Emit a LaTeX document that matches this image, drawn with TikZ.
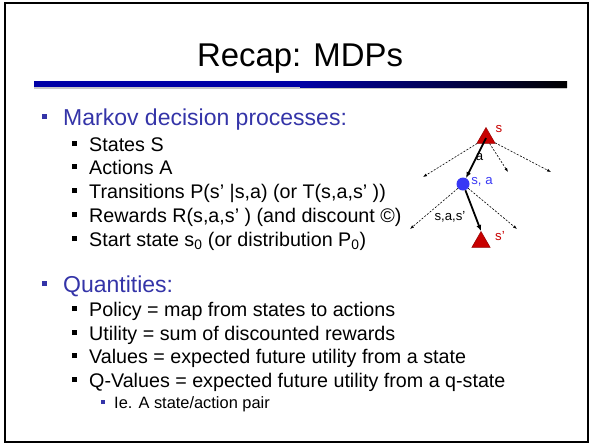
\documentclass[tikz,border=0pt]{standalone}
\usepackage{fontspec}
\setmainfont{Liberation Sans}
\usetikzlibrary{arrows.meta,shapes.geometric}
\definecolor{mdpblue}{HTML}{3434A8}
\definecolor{mdpbar}{HTML}{0000A6}
\definecolor{mdpred}{HTML}{C80000}
\definecolor{mdpcircle}{HTML}{3838F4}

% square bullet: colour, size, raise, gap to the text
\newcommand{\sqbullet}[4]{\textcolor{#1}{\rule[#3]{#2}{#2}}\hspace{#4}}

\begin{document}
\begin{tikzpicture}[
    x=1pt, y=-1pt,
    >=Latex,
    heading/.style={
        anchor=base west,
        inner sep=0pt,
        text=mdpblue,
        font=\fontsize{23}{27}\selectfont
    },
    entry/.style={
        anchor=base west,
        inner sep=0pt,
        font=\fontsize{19.7}{23}\selectfont
    },
    subentry/.style={
        anchor=base west,
        inner sep=0pt,
        font=\fontsize{16.4}{19}\selectfont
    },
    state/.style={
        regular polygon,
        regular polygon sides=3,
        minimum size=21pt,
        inner sep=0pt,
        fill=mdpred,
        draw=mdpred!75!black,
        line width=0.5pt
    },
    qstate/.style={
        circle,
        minimum size=13pt,
        inner sep=0pt,
        fill=mdpcircle
    },
    move/.style={-{Latex[length=6pt,width=5pt]},line width=1.8pt},
    maybe/.style={-{Latex[length=4pt,width=3pt]},line width=0.6pt,dash pattern=on 2pt off 1.5pt},
    tag/.style={inner sep=0pt,font=\fontsize{13.2}{15}\selectfont}
]
\useasboundingbox (0,0) rectangle (592,445);

% Slide frame and title bar
\draw[line width=2pt] (5,3) rectangle (588,442);
\node[font=\fontsize{32.9}{38}\selectfont,anchor=base] (title) at (300,66) {Recap: MDPs};
\fill[black!22] (34,87) rectangle (567,88.5);
\fill[mdpbar] (34,81) rectangle (300,87);
\shade[left color=mdpbar,right color=black] (300,81) rectangle (567,87);

% MDP definition
\node[heading] (markov) at (42,125) {\sqbullet{mdpblue}{5pt}{6pt}{16pt}Markov decision processes:};
\node[entry] (states) at (72,151) {\sqbullet{black}{5pt}{5pt}{12pt}States S};
\node[entry] (actions) at (72,174) {\sqbullet{black}{5pt}{5pt}{12pt}Actions A};
\node[entry] (trans) at (72,198) {\sqbullet{black}{5pt}{5pt}{12pt}Transitions P(s’ |s,a) (or T(s,a,s’ ))};
\node[entry] (rewards) at (72,222) {\sqbullet{black}{5pt}{5pt}{12pt}Rewards R(s,a,s’ ) (and discount ©)};
\node[entry] (start) at (72,246) {\sqbullet{black}{5pt}{5pt}{12pt}Start state s\textsubscript{0} (or distribution P\textsubscript{0})};

% Derived quantities
\node[heading] (quant) at (42,292) {\sqbullet{mdpblue}{5pt}{6pt}{16pt}Quantities:};
\node[entry] (policy) at (72,316) {\sqbullet{black}{5pt}{5pt}{12pt}Policy = map from states to actions};
\node[entry] (utility) at (72,340) {\sqbullet{black}{5pt}{5pt}{12pt}Utility = sum of discounted rewards};
\node[entry] (values) at (72,363) {\sqbullet{black}{5pt}{5pt}{12pt}Values = expected future utility from a state};
\node[entry] (qvalues) at (72,387) {\sqbullet{black}{5pt}{5pt}{12pt}Q-Values = expected future utility from a q-state};
\node[subentry] (pair) at (101,408) {\sqbullet{mdpblue}{4pt}{4pt}{9pt}Ie. A state/action pair};

% Expectimax-style tree
\node[state] (s) at (486,138) {};
\node[qstate] (sa) at (463,184) {};
\node[state] (snext) at (481,242) {};

\coordinate (sl) at (423,177);
\coordinate (sm) at (508,172);
\coordinate (sr) at (551,172);
\coordinate (sal) at (410,229);
\coordinate (sar) at (517,229);

\draw[maybe] (s) -- (sl);
\draw[maybe] (s) -- (sm);
\draw[maybe] (s) -- (sr);
\draw[maybe] (sa) -- (sal);
\draw[maybe] (sa) -- (sar);
\draw[move] (s.center) -- (sa);
\draw[move] (sa) -- (snext.corner 1);

\node[tag,text=mdpred] (slbl) at (499,129) {s};
\node[tag] (albl) at (479.5,157) {a};
\node[tag,text=mdpcircle] (salbl) at (482,182) {s, a};
\node[tag] (trlbl) at (450,217) {s,a,s’};
\node[tag,text=mdpred] (snlbl) at (500,236) {s’};

\end{tikzpicture}
\end{document}
